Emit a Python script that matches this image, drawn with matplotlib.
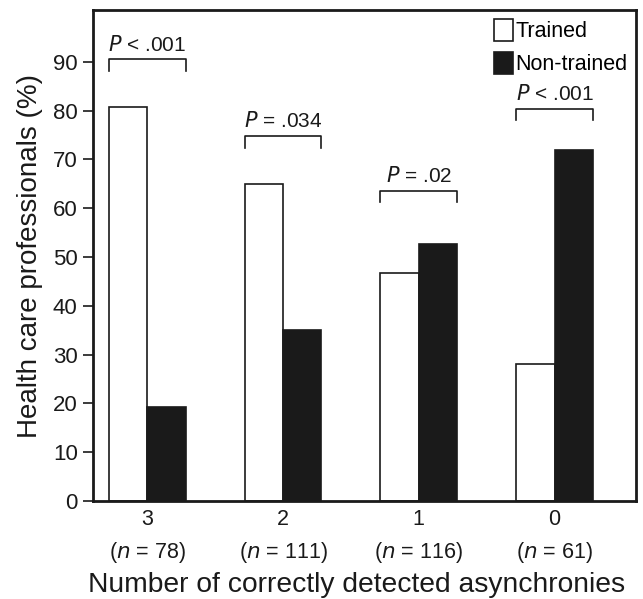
import numpy as np
import matplotlib.pyplot as plt

plt.rcParams["font.family"] = ["Liberation Sans", "DejaVu Sans"]

# data
groups   = ["3", "2", "1", "0"]
n_labels = ["78", "111", "116", "61"]
trained     = [80.8, 65.0, 46.8, 28.0]
non_trained = [19.3, 35.0, 52.7, 72.0]
p_texts  = ["< .001", "= .034", "= .02", "< .001"]
bracket_y = [90.5, 74.8, 63.6, 80.4]

W = 0.283
ink = "#1a1a1a"

fig = plt.figure(figsize=(6.43, 5.99), dpi=100)
ax = fig.add_axes([0.1446, 0.1636, 0.8445, 0.8194])

x = np.arange(len(groups))
ax.bar(x - W/2, trained, W, color="white", edgecolor=ink, linewidth=1.2, label="Trained")
ax.bar(x + W/2, non_trained, W, color=ink, edgecolor=ink, linewidth=1.2, label="Non-trained")

# significance brackets
for xi, by, pt in zip(x, bracket_y, p_texts):
    x0, x1 = xi - W, xi + W
    ax.plot([x0, x0, x1, x1], [by - 2.4, by, by, by - 2.4], color=ink, lw=1.2)
    ax.text(xi, by + 1.0, r"$\it{P}$ " + pt, ha="center", va="bottom", fontsize=15, color=ink)

ax.set_xlim(-0.40, 3.60)
ax.set_ylim(0, 100.6)
ax.set_yticks(np.arange(0, 91, 10))
ax.set_xticks(x)
ax.set_xticklabels([f"{g}\n($\\it{{n}}$ = {n})" for g, n in zip(groups, n_labels)],
                   fontsize=15.5, linespacing=1.55)
ax.tick_params(axis="y", labelsize=16, length=7, width=1.2, colors=ink, pad=4)
ax.tick_params(axis="x", length=0, pad=6, colors=ink)
for s in ax.spines.values():
    s.set_linewidth(2)
    s.set_color(ink)

ax.set_ylabel("Health care professionals (%)", fontsize=20, color=ink, labelpad=7)
ax.set_xlabel("Number of correctly detected asynchronies", fontsize=20.3, color=ink, labelpad=5)
ax.xaxis.label.set_x(0.485)

ax.legend(loc="upper right", frameon=False, fontsize=15.5, handlelength=0.9, handleheight=1.2,
          handletextpad=0.1, borderaxespad=0.0, labelspacing=0.45)

fig.savefig("out.png", dpi=100)
